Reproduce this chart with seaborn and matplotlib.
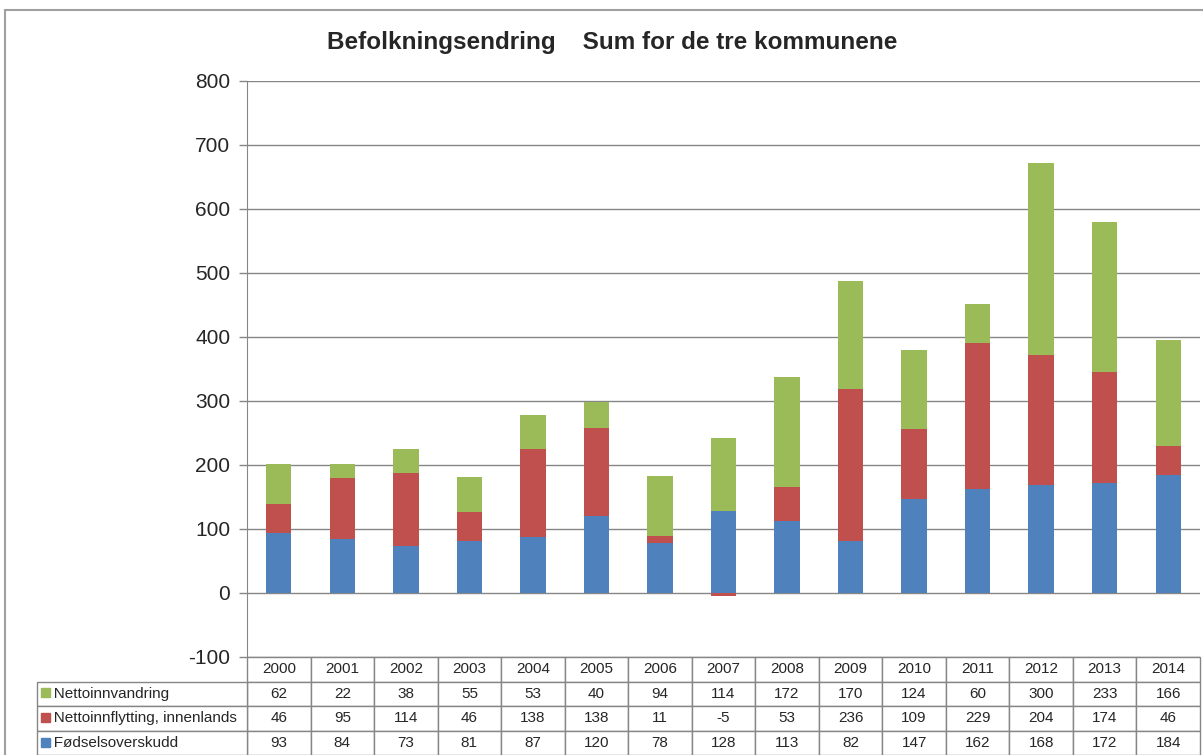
import matplotlib
matplotlib.use("Agg")
from matplotlib import pyplot as plt
from matplotlib.patches import Rectangle
from matplotlib.lines import Line2D
import pandas as pd
import seaborn as sns

years = [str(y) for y in range(2000, 2015)]
innvandring = [62, 22, 38, 55, 53, 40, 94, 114, 172, 170, 124, 60, 300, 233, 166]
innflytting = [46, 95, 114, 46, 138, 138, 11, -5, 53, 236, 109, 229, 204, 174, 46]
fodsel = [93, 84, 73, 81, 87, 120, 78, 128, 113, 82, 147, 162, 168, 172, 184]

series_names = ["Nettoinnvandring", "Nettoinnflytting, innenlands", "Fødselsoverskudd"]
colors = {"Nettoinnvandring": "#9BBB59",
          "Nettoinnflytting, innenlands": "#C0504D",
          "Fødselsoverskudd": "#4F81BD"}

sns.set_style("white")
plt.rcParams['font.family'] = ['Liberation Sans', 'DejaVu Sans']
plt.rcParams['axes.unicode_minus'] = False

# cumulative tops for stacking (positives and negatives stacked separately, like Excel)
red_top = [b + max(r, 0) for b, r in zip(fodsel, innflytting)]
green_top = [rt + g for rt, g in zip(red_top, innvandring)]
red_neg = [min(r, 0) for r in innflytting]

df = pd.DataFrame({"year": years, "green": green_top, "red": red_top,
                   "blue": fodsel, "redneg": red_neg})

fig = plt.figure(figsize=(12.03, 7.55), dpi=100)
ax = fig.add_axes([247 / 1203, 1 - 657 / 755, 953 / 1203, 576 / 755])

for col, c in [("green", colors["Nettoinnvandring"]),
               ("red", colors["Nettoinnflytting, innenlands"]),
               ("blue", colors["Fødselsoverskudd"]),
               ("redneg", colors["Nettoinnflytting, innenlands"])]:
    sns.barplot(data=df, x="year", y=col, color=c, width=0.4, saturation=1,
                ax=ax, zorder=3, edgecolor="none", linewidth=0)

ax.set_ylim(-100, 800)
ax.set_xlim(-0.5, len(years) - 0.5)
ax.set_yticks(range(-100, 801, 100))
ax.yaxis.grid(True, color="#868686", linewidth=1)
ax.set_axisbelow(True)
ax.tick_params(axis="y", labelsize=15, length=6, width=1, color="#868686",
               left=True, pad=6)
ax.tick_params(axis="x", bottom=False, labelbottom=False)
ax.set_xlabel("")
ax.set_ylabel("")
for s in ["top", "right", "bottom"]:
    ax.spines[s].set_visible(False)
ax.spines["left"].set_color("#868686")

fig.text(612 / 1203, 1 - 42 / 755, "Befolkningsendring    Sum for de tre kommunene",
         ha="center", va="center", fontsize=17.5, fontweight="bold")

# data table below the plot
row_h = 98 / 4 / 576
values = [innvandring, innflytting, fodsel]
tab = ax.table(cellText=[[str(v) for v in row] for row in values],
               colLabels=years, cellLoc="center",
               bbox=[0, -4 * row_h, 1, 4 * row_h])
tab.auto_set_font_size(False)
tab.set_fontsize(11)
for cell in tab.get_celld().values():
    cell.set_edgecolor("#868686")
    cell.set_linewidth(1)

lab_x0 = (37 - 247) / 953
lab = ax.table(cellText=[["   " + n] for n in series_names], cellLoc="left",
               bbox=[lab_x0, -4 * row_h, -lab_x0, 3 * row_h])
lab.auto_set_font_size(False)
lab.set_fontsize(11)
for cell in lab.get_celld().values():
    cell.set_edgecolor("#868686")
    cell.set_linewidth(1)
    cell.PAD = 0.02

# legend keys in the row labels
for i, n in enumerate(series_names):
    yc = 1 - (692 + 25 * i) / 755
    fig.add_artist(Rectangle((41 / 1203, yc - 4.5 / 755), 9 / 1203, 9 / 755,
                             transform=fig.transFigure, color=colors[n]))

# chart border
fig.add_artist(Line2D([5 / 1203, 1], [1 - 10 / 755, 1 - 10 / 755],
                      transform=fig.transFigure, color="#a0a0a0", linewidth=1.5))
fig.add_artist(Line2D([5 / 1203, 5 / 1203], [0, 1 - 10 / 755],
                      transform=fig.transFigure, color="#a0a0a0", linewidth=1.5))

fig.savefig("out.png", dpi=100)
